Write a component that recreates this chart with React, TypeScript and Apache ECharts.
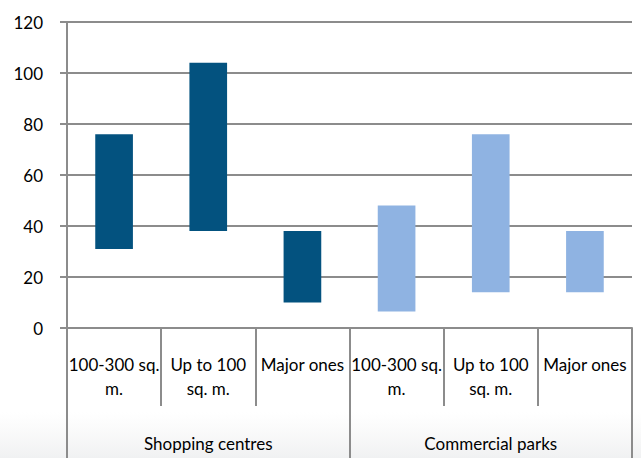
import React, { useEffect, useRef } from "react";
import * as echarts from "echarts";

// Sub-categories (two-line labels) and the groups they belong to
const subCategories = [
  "100-300 sq.\nm.",
  "Up to 100\nsq. m.",
  "Major ones",
  "100-300 sq.\nm.",
  "Up to 100\nsq. m.",
  "Major ones",
];
const groups = ["Shopping centres", "Commercial parks"];
const groupOfCategory = [0, 0, 0, 1, 1, 1];

// Range of each floating bar
const lowValues = [31, 38, 10, 6.5, 14, 14];
const highValues = [76, 104, 38, 48, 76, 38];

const groupColors = ["#03527F", "#8FB3E2"];
const yTicks = [0, 20, 40, 60, 80, 100, 120];

const FONT = "Lato, 'Open Sans', sans-serif";
const LINE = "#8c8c8c";

export default function App() {
  const ref = useRef<HTMLDivElement>(null);

  useEffect(() => {
    if (!ref.current) return;
    const chart = echarts.init(ref.current, undefined, { renderer: "svg" });

    const gridBox = { left: 67, right: 9, top: 22, bottom: 130 };

    chart.setOption({
      animation: false,
      backgroundColor: "#ffffff",
      graphic: [
        {
          type: "rect",
          z: -10,
          silent: true,
          shape: { x: 0, y: 412, width: 641, height: 46 },
          style: {
            fill: new echarts.graphic.LinearGradient(0, 0, 0, 1, [
              { offset: 0, color: "rgba(244,244,244,0)" },
              { offset: 1, color: "rgba(240,241,242,1)" },
            ]),
          },
        },
      ],
      grid: [
        { ...gridBox, containLabel: false },
        { ...gridBox, containLabel: false },
      ],
      xAxis: [
        {
          type: "category",
          gridIndex: 0,
          data: subCategories,
          axisLine: { show: true, lineStyle: { color: LINE, width: 2 } },
          axisTick: {
            show: true,
            interval: 0,
            length: 78,
            lineStyle: { color: LINE, width: 2 },
          },
          axisLabel: {
            interval: 0,
            margin: 24,
            fontFamily: FONT,
            fontSize: 17,
            lineHeight: 24,
            color: "#000",
            verticalAlign: "top",
          },
          splitLine: { show: false },
        },
        {
          type: "category",
          gridIndex: 1,
          data: groups,
          axisLine: { show: false },
          axisTick: {
            show: true,
            interval: 0,
            length: 130,
            lineStyle: { color: LINE, width: 2 },
          },
          axisLabel: {
            interval: 0,
            margin: 103,
            fontFamily: FONT,
            fontSize: 17,
            lineHeight: 24,
            color: "#000",
            verticalAlign: "top",
          },
        },
      ],
      yAxis: [
        {
          type: "value",
          gridIndex: 0,
          min: yTicks[0],
          max: yTicks[yTicks.length - 1],
          interval: 20,
          axisLine: { show: true, lineStyle: { color: LINE, width: 2 } },
          axisTick: { show: true, length: 7, lineStyle: { color: LINE, width: 2 } },
          axisLabel: {
            margin: 24,
            fontFamily: FONT,
            fontSize: 17,
            color: "#000",
          },
          splitLine: { show: true, lineStyle: { color: LINE, width: 2 } },
        },
        {
          type: "value",
          gridIndex: 1,
          min: 0,
          max: 120,
          show: false,
        },
      ],
      series: [
        {
          name: "base",
          type: "bar",
          stack: "range",
          xAxisIndex: 0,
          yAxisIndex: 0,
          barWidth: "40%",
          silent: true,
          itemStyle: { color: "transparent" },
          data: lowValues,
        },
        {
          name: "range",
          type: "bar",
          stack: "range",
          xAxisIndex: 0,
          yAxisIndex: 0,
          barWidth: "40%",
          data: highValues.map((h, i) => ({
            value: h - lowValues[i],
            itemStyle: { color: groupColors[groupOfCategory[i]] },
          })),
        },
      ],
    });

    return () => chart.dispose();
  }, []);

  return (
    <div
      ref={ref}
      style={{ position: "absolute", left: 0, top: 0, width: 641, height: 458 }}
    />
  );
}
